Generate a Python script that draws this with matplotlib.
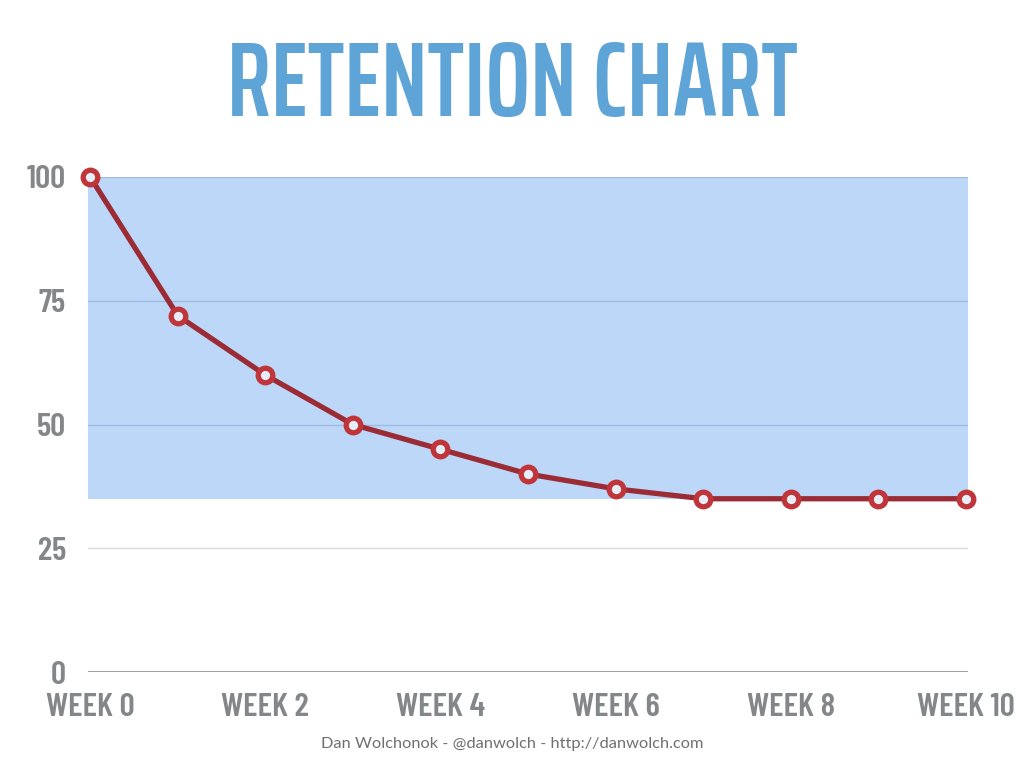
import matplotlib
matplotlib.use("Agg")
import matplotlib.pyplot as plt

# retention data
weeks = [0, 1, 2, 3, 4, 5, 6, 7, 8, 9, 10]
retention = [100, 72, 60, 50, 45, 40, 37, 35, 35, 35, 35]
x_ticks = [0, 2, 4, 6, 8, 10]
x_labels = ["WEEK 0", "WEEK 2", "WEEK 4", "WEEK 6", "WEEK 8", "WEEK 10"]
y_ticks = [0, 25, 50, 75, 100]
band = (35, 100)  # shaded region

cond = ["Barlow Condensed", "DejaVu Sans"]
title_font = ["Saira ExtraCondensed", "Barlow Condensed", "DejaVu Sans"]
gray = "#83878a"

fig = plt.figure(figsize=(10.24, 7.57), dpi=100)
ax = fig.add_axes([88 / 1024, 85 / 757, 880 / 1024, 495 / 757])
ax.set_xlim(-0.025, 10.025)
ax.set_ylim(0, 100)

ax.axhspan(band[0], band[1], color="#bdd7f8", zorder=0, lw=0)
for v in y_ticks[1:]:
    c = "#9fbbe4" if band[0] <= v <= band[1] else "#dadada"
    ax.axhline(v, color=c, lw=1, zorder=1)
ax.axhline(0, color="#a3a3a3", lw=1.5, zorder=1)

ax.plot(weeks, retention, color="#9b2c35", lw=3.8, zorder=3,
        marker="o", ms=10.5, mew=3.8, mec="#bf3539", mfc="#e6eefa",
        clip_on=False)

for s in ax.spines.values():
    s.set_visible(False)
ax.set_xticks(x_ticks)
ax.set_xticklabels(x_labels)
ax.set_yticks(y_ticks)
ax.tick_params(length=0)
ax.tick_params(axis="x", pad=15)
ax.tick_params(axis="y", pad=16)
for lab in ax.get_xticklabels() + ax.get_yticklabels():
    lab.set_family(cond)
    lab.set_fontweight(600)
    lab.set_fontsize(24)
    lab.set_color(gray)

fig.text(0.5, 0.885, "RETENTION CHART", ha="center", va="center",
         family=title_font, fontweight=600, fontsize=76, color="#5ea4d7")
fig.text(0.5, 0.017, "Dan Wolchonok - @danwolch - http://danwolch.com",
         ha="center", va="center", family=["Lato", "DejaVu Sans"],
         fontsize=11.8, color="#707070")

fig.savefig("out.png", dpi=100)
